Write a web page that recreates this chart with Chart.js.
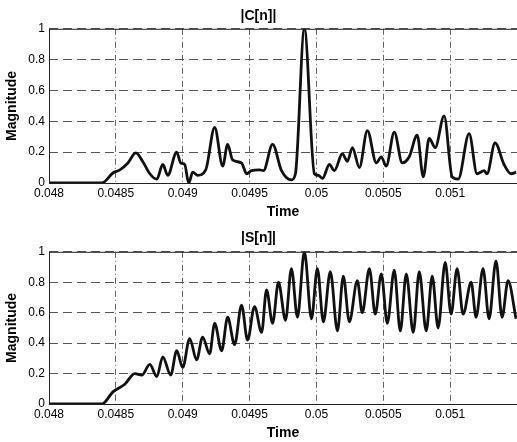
<!DOCTYPE html>
<html>
<head>
<meta charset="utf-8">
<script src="https://cdn.jsdelivr.net/npm/chart.js@4/dist/chart.umd.min.js"></script>
<style>
  html, body { margin: 0; padding: 0; background: #fff; overflow: hidden; }
  canvas { display: block; }
</style>
</head>
<body>
<canvas id="chartC" width="517" height="221"></canvas>
<canvas id="chartS" width="517" height="221"></canvas>
<script>
// tick values
const xTicks = [0.048, 0.0485, 0.049, 0.0495, 0.05, 0.0505, 0.051];
const yTicks = [0, 0.2, 0.4, 0.6, 0.8, 1];

// |C[n]|
const cTime = [0.048, 0.048396, 0.048478, 0.04853, 0.04859, 0.048649, 0.048701, 0.048754, 0.048806,
  0.048851, 0.048888, 0.048955, 0.048985, 0.049015, 0.049045, 0.049075, 0.049112, 0.049172,
  0.049239, 0.049299, 0.049336, 0.049373, 0.04944, 0.049478, 0.049515, 0.049575, 0.049604,
  0.049672, 0.049739, 0.049813, 0.049843, 0.04991, 0.049985, 0.050015, 0.050045, 0.050097,
  0.050134, 0.050194, 0.050231, 0.050269, 0.050321, 0.050381, 0.050448, 0.050485, 0.050522,
  0.050582, 0.050642, 0.050694, 0.050754, 0.050799, 0.050843, 0.050888, 0.050955, 0.051015,
  0.05106, 0.051142, 0.051201, 0.051254, 0.051276, 0.051336, 0.051403, 0.051455, 0.051493];
const cMag = [0, 0, 0.065, 0.085, 0.13, 0.195, 0.14, 0.06, 0.025,
  0.12, 0.05, 0.2, 0.13, 0.12, 0, 0.07, 0.05, 0.085,
  0.36, 0.11, 0.25, 0.15, 0.13, 0.06, 0.08, 0.085, 0.08,
  0.25, 0.08, 0.02, 0.06, 1.0, 0.06, 0.05, 0.03, 0.12,
  0.08, 0.19, 0.14, 0.23, 0.1, 0.34, 0.13, 0.17, 0.11,
  0.33, 0.13, 0.17, 0.31, 0.04, 0.29, 0.23, 0.435, 0.04,
  0.025, 0.32, 0.06, 0.08, 0.06, 0.26, 0.12, 0.06, 0.07];

// |S[n]|
const sTime = [0.048, 0.048396, 0.048478, 0.048567, 0.048642, 0.048694, 0.048754, 0.048806, 0.048851,
  0.04891, 0.048955, 0.049, 0.049052, 0.049104, 0.049149, 0.049201, 0.049239, 0.049291,
  0.049336, 0.049388, 0.04944, 0.049485, 0.049537, 0.04959, 0.049627, 0.049672, 0.049716,
  0.049769, 0.049813, 0.049858, 0.04991, 0.049963, 0.050007, 0.050052, 0.050104, 0.050157,
  0.050201, 0.050246, 0.050306, 0.050343, 0.050396, 0.05044, 0.050485, 0.05053, 0.050582,
  0.050627, 0.050672, 0.050724, 0.050769, 0.050821, 0.050866, 0.05091, 0.050963, 0.051007,
  0.051052, 0.051097, 0.051157, 0.051194, 0.051246, 0.051291, 0.051343, 0.051388, 0.051433,
  0.051493];
const sMag = [0, 0, 0.08, 0.13, 0.2, 0.19, 0.26, 0.18, 0.31,
  0.19, 0.35, 0.24, 0.43, 0.29, 0.44, 0.33, 0.53, 0.35,
  0.57, 0.39, 0.65, 0.42, 0.64, 0.47, 0.75, 0.53, 0.8,
  0.55, 0.89, 0.57, 1.0, 0.56, 0.89, 0.54, 0.87, 0.48,
  0.84, 0.54, 0.81, 0.6, 0.89, 0.59, 0.855, 0.53, 0.88,
  0.48, 0.855, 0.47, 0.87, 0.48, 0.84, 0.5, 0.93, 0.59,
  0.89, 0.59, 0.8, 0.57, 0.89, 0.56, 0.94, 0.57, 0.81,
  0.56];

const FONT = "'Liberation Sans', Arial, Helvetica, sans-serif";

// MATLAB style box round the plot area
const boxPlugin = {
  id: "box",
  afterDatasetsDraw(chart) {
    const a = chart.chartArea;
    const ctx = chart.ctx;
    ctx.save();
    ctx.setLineDash([]);
    ctx.strokeStyle = "#222";
    ctx.lineWidth = 1;
    ctx.strokeRect(a.left + 0.5, a.top + 0.5, a.right - a.left, a.bottom - a.top);
    ctx.restore();
  }
};

function makeChart(id, title, times, mags, titlePad) {
  const points = times.map((t, i) => ({ x: t, y: mags[i] }));
  return new Chart(document.getElementById(id), {
    type: "line",
    data: {
      datasets: [{
        data: points,
        borderColor: "#111",
        borderWidth: 2.8,
        pointRadius: 0,
        fill: false,
        cubicInterpolationMode: "monotone"
      }]
    },
    options: {
      responsive: false,
      animation: false,
      layout: { padding: { left: 0, right: 0, top: 0, bottom: 0 } },
      plugins: {
        legend: { display: false },
        tooltip: { enabled: false },
        title: {
          display: true,
          text: title,
          color: "#000",
          font: { family: FONT, size: 14, weight: "bold" },
          padding: titlePad
        }
      },
      scales: {
        x: {
          type: "linear",
          min: 0.048,
          max: 0.0515,
          afterBuildTicks: (scale) => { scale.ticks = xTicks.map(v => ({ value: v })); },
          afterFit: (scale) => { scale.height = 38; },
          ticks: {
            color: "#000",
            font: { family: FONT, size: 12 },
            padding: 3,
            maxRotation: 0,
            autoSkip: false,
            callback: (v) => String(+v.toFixed(4))
          },
          grid: { color: "#666", lineWidth: 1, drawTicks: false },
          border: { display: false, dash: [6, 3, 1, 3] },
          title: {
            display: true,
            text: "Time",
            color: "#000",
            font: { family: FONT, size: 14, weight: "bold" },
            padding: { top: 0, bottom: 0 }
          }
        },
        y: {
          min: 0,
          max: 1,
          afterBuildTicks: (scale) => { scale.ticks = yTicks.map(v => ({ value: v })); },
          afterFit: (scale) => { scale.width = 49; },
          ticks: {
            color: "#000",
            font: { family: FONT, size: 12 },
            padding: 4,
            callback: (v) => String(+v.toFixed(1))
          },
          grid: { color: "#555", lineWidth: 1, drawTicks: false },
          border: { display: false, dash: [9, 5] },
          title: {
            display: true,
            text: "Magnitude",
            color: "#000",
            font: { family: FONT, size: 14, weight: "bold" },
            padding: { top: 4, bottom: 0 }
          }
        }
      }
    },
    plugins: [boxPlugin]
  });
}

makeChart("chartC", "|C[n]|", cTime, cMag, { top: 8, bottom: 4 });
makeChart("chartS", "|S[n]|", sTime, sMag, { top: 9, bottom: 5 });
</script>
</body>
</html>
